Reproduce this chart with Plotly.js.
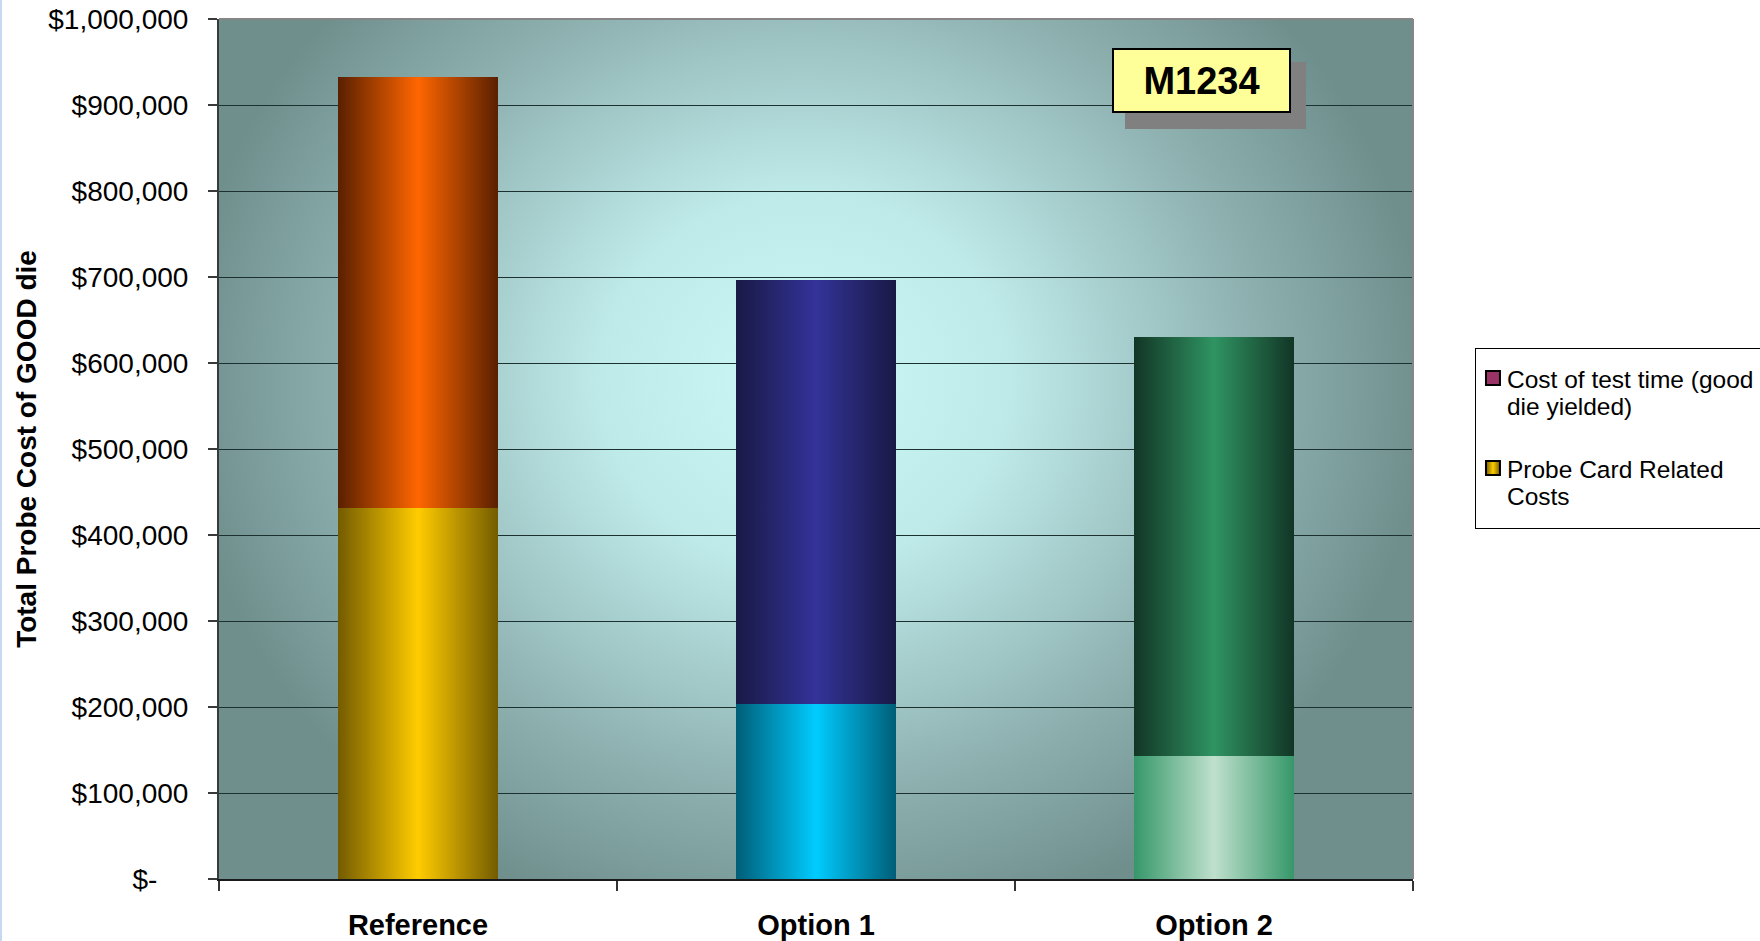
<!DOCTYPE html>
<html>
<head>
<meta charset="utf-8">
<script src="https://cdn.plot.ly/plotly-3.0.1.min.js"></script>
<style>
  html, body { margin: 0; padding: 0; background: #ffffff; }
  #chart { width: 1760px; height: 941px; position: relative; }
  #edge { position: absolute; left: 0; top: 0; width: 2px; height: 941px; background: #c6d9f0; z-index: 5; }
</style>
</head>
<body>
<div id="edge"></div>
<div id="chart"></div>
<script>
// Categories and the two stacked cost components (USD)
const categories = ['Reference', 'Option 1', 'Option 2'];
const probeCardCosts = [431000, 203000, 143000];
const testTimeCosts = [502000, 494000, 487000];

// Series names shown in the legend
const probeCardName = 'Probe Card Related<br>Costs';
const testTimeName = 'Cost of test time (good<br>die yielded)';

// Y axis ticks in accounting style
const yTickValues = [0, 100000, 200000, 300000, 400000, 500000, 600000, 700000, 800000, 900000, 1000000];
const yTickLabels = ['$-\u00a0\u00a0\u00a0\u00a0', '$100,000', '$200,000', '$300,000', '$400,000', '$500,000',
  '$600,000', '$700,000', '$800,000', '$900,000', '$1,000,000'];

const chartLabel = 'M1234';

// Cylinder-style shading per bar: [edge colour, centre colour]
const probeCardShades = [['#745c00', '#ffcc00'], ['#005e78', '#00ccff'], ['#36986a', '#bfe0cd']];
const testTimeShades = [['#5a2000', '#ff6600'], ['#191946', '#333399'], ['#123626', '#2f9462']];
const testTimeLegendColor = '#993366';

const FONT = 'Liberation Sans, Arial, Helvetica, sans-serif';

// Plot-area backdrop: light cyan glow (taller than wide) fading to grey teal
const bgSvg = "<svg xmlns='http://www.w3.org/2000/svg' width='1194' height='860' viewBox='0 0 100 100' preserveAspectRatio='none'>" +
  "<defs><radialGradient id='g' gradientUnits='userSpaceOnUse' cx='0' cy='0' r='1' gradientTransform='translate(49 42) scale(52 66)'>" +
  "<stop offset='0' stop-color='#cdf8f8'/><stop offset='0.33' stop-color='#bfeaea'/>" +
  "<stop offset='0.68' stop-color='#93b7b6'/><stop offset='1' stop-color='#6f8f8d'/>" +
  "</radialGradient></defs><rect x='0' y='0' width='100' height='100' fill='url(#g)'/></svg>";
const bgUri = 'data:image/svg+xml;charset=utf-8,' + encodeURIComponent(bgSvg);

const data = [
  {
    type: 'bar', name: probeCardName, x: categories, y: probeCardCosts,
    marker: { color: probeCardShades.map(s => s[1]), line: { width: 0 } },
    legendgroup: 'probe', hoverinfo: 'skip'
  },
  {
    type: 'bar', name: testTimeName, x: categories, y: testTimeCosts,
    marker: { color: testTimeShades.map(s => s[1]), line: { width: 0 } },
    legendgroup: 'test', hoverinfo: 'skip'
  }
];

const layout = {
  width: 1760, height: 941,
  margin: { l: 219, r: 347, t: 19, b: 62, autoexpand: false },
  paper_bgcolor: '#ffffff',
  plot_bgcolor: 'rgba(0,0,0,0)',
  barmode: 'stack',
  bargap: 0.6,
  font: { family: FONT, color: '#000000' },
  showlegend: true,
  legend: {
    x: 1.0519, y: 0.6174, xanchor: 'left', yanchor: 'top',
    bgcolor: '#ffffff', bordercolor: '#000000', borderwidth: 1,
    font: { family: FONT, size: 24.5, color: '#000000' },
    traceorder: 'reversed', valign: 'top', tracegroupgap: 40, itemwidth: 30
  },
  xaxis: {
    type: 'category', categoryorder: 'array', categoryarray: categories,
    showline: true, linecolor: '#1a1a1a', linewidth: 2,
    ticks: 'outside', tickson: 'boundaries', ticklen: 10, tickwidth: 1.5, tickcolor: '#333333',
    tickfont: { family: FONT, size: 29, weight: 'bold', color: '#000000' },
    ticklabelstandoff: 19,
    showgrid: false, zeroline: false, fixedrange: true
  },
  yaxis: {
    range: [0, 1000000], tickmode: 'array', tickvals: yTickValues, ticktext: yTickLabels,
    showline: true, linecolor: '#3a3a3a', linewidth: 2,
    ticks: 'outside', ticklen: 9, tickwidth: 1.5, tickcolor: '#3a3a3a',
    tickfont: { family: FONT, size: 28, color: '#000000' },
    ticklabelstandoff: 14,
    showgrid: true, gridcolor: '#1d3030', gridwidth: 1,
    zeroline: false, fixedrange: true,
    title: { text: 'Total Probe Cost of GOOD die', font: { family: FONT, size: 28, weight: 'bold', color: '#000000' }, standoff: 3 }
  },
  images: [{
    source: bgUri, xref: 'paper', yref: 'paper', x: 0, y: 1, sizex: 1, sizey: 1,
    xanchor: 'left', yanchor: 'top', sizing: 'stretch', layer: 'below'
  }],
  shapes: [
    { type: 'line', xref: 'paper', yref: 'paper', x0: 0, x1: 1, y0: 1, y1: 1, line: { color: '#868686', width: 2 }, layer: 'above' },
    { type: 'line', xref: 'paper', yref: 'paper', x0: 1, x1: 1, y0: 0, y1: 1, line: { color: '#868686', width: 2 }, layer: 'above' },
    // drop shadow behind the label box
    { type: 'rect', xref: 'paper', yref: 'paper', x0: 0.7588, x1: 0.9104, y0: 0.8721, y1: 0.95, fillcolor: '#808080', line: { width: 0 }, layer: 'above' }
  ],
  annotations: [{
    text: '<b>' + chartLabel + '</b>', xref: 'paper', yref: 'paper', x: 0.8229, y: 0.9285,
    xanchor: 'center', yanchor: 'middle', showarrow: false,
    bgcolor: '#ffff99', bordercolor: '#000000', borderwidth: 2, borderpad: 0,
    width: 175, height: 61,
    font: { family: FONT, size: 38, color: '#000000' }
  }]
};

const SVGNS = 'http://www.w3.org/2000/svg';

function addGradient(defs, id, edge, centre) {
  const g = document.createElementNS(SVGNS, 'linearGradient');
  g.setAttribute('id', id);
  g.setAttribute('x1', '0'); g.setAttribute('y1', '0');
  g.setAttribute('x2', '1'); g.setAttribute('y2', '0');
  [[0, edge], [0.5, centre], [1, edge]].forEach(([o, c]) => {
    const s = document.createElementNS(SVGNS, 'stop');
    s.setAttribute('offset', o);
    s.setAttribute('stop-color', c);
    g.appendChild(s);
  });
  defs.appendChild(g);
}

// Legend layout: first-line centre (page y) per trace index, box bottom edge
const legendLineCentre = { 1: 379, 0: 469 };
const legendBottom = 528;

Plotly.newPlot('chart', data, layout, { staticPlot: true, displayModeBar: false }).then(gd => {
  const defs = gd.querySelector('.main-svg defs');
  const shades = [probeCardShades, testTimeShades];
  shades.forEach((set, t) => set.forEach((s, i) => addGradient(defs, 'shade-' + t + '-' + i, s[0], s[1])));

  // cylinder shading on every bar segment
  gd.querySelectorAll('.barlayer .trace').forEach((tr, t) => {
    tr.querySelectorAll('.point path').forEach((p, i) => {
      p.style.fill = 'url(#shade-' + t + '-' + i + ')';
    });
  });

  // legend swatches, text spacing and item placement
  gd.querySelectorAll('.legend .traces').forEach(item => {
    const idx = item.__data__[0].trace.index;
    const sw = item.querySelector('path.legendbar') || item.querySelector('.legendpoints path');
    if (sw) {
      sw.setAttribute('d', 'M4,7H-10V-7H4Z');
      sw.style.fill = idx === 0 ? 'url(#shade-0-0)' : testTimeLegendColor;
      sw.style.stroke = '#000000';
      sw.style.strokeWidth = '2px';
    }
    const text = item.querySelector('text.legendtext');
    if (text) {
      const lines = text.querySelectorAll('tspan.line');
      lines.forEach((ts, k) => {
        if (k === 1) ts.setAttribute('dy', '1.14em');
        if (ts.hasAttribute('x')) ts.setAttribute('x', +ts.getAttribute('x') - 9);
      });
      if (text.hasAttribute('x')) text.setAttribute('x', +text.getAttribute('x') - 9);
      const first = lines.length ? lines[0] : text;
      const r = first.getBoundingClientRect();
      const dy = legendLineCentre[idx] - (r.top + r.bottom) / 2;
      const m = /translate\(\s*([-\d.]+)[ ,]+([-\d.]+)\s*\)/.exec(item.getAttribute('transform') || '');
      const tx = m ? +m[1] : 0, ty = m ? +m[2] : 0;
      item.setAttribute('transform', 'translate(' + tx + ',' + (ty + dy) + ')');
    }
  });

  const legend = gd.querySelector('.legend');
  const bg = legend.querySelector('rect.bg');
  const top = bg.getBoundingClientRect().top;
  const h = legendBottom - top;
  bg.setAttribute('height', h);
  bg.setAttribute('width', +bg.getAttribute('width') + 60);
  gd.querySelectorAll('clipPath').forEach(cp => {
    if (/legend/i.test(cp.id)) {
      const rr = cp.querySelector('rect');
      if (rr) { rr.setAttribute('height', h + 20); rr.setAttribute('width', +rr.getAttribute('width') + 60); }
    }
  });
});
</script>
</body>
</html>
